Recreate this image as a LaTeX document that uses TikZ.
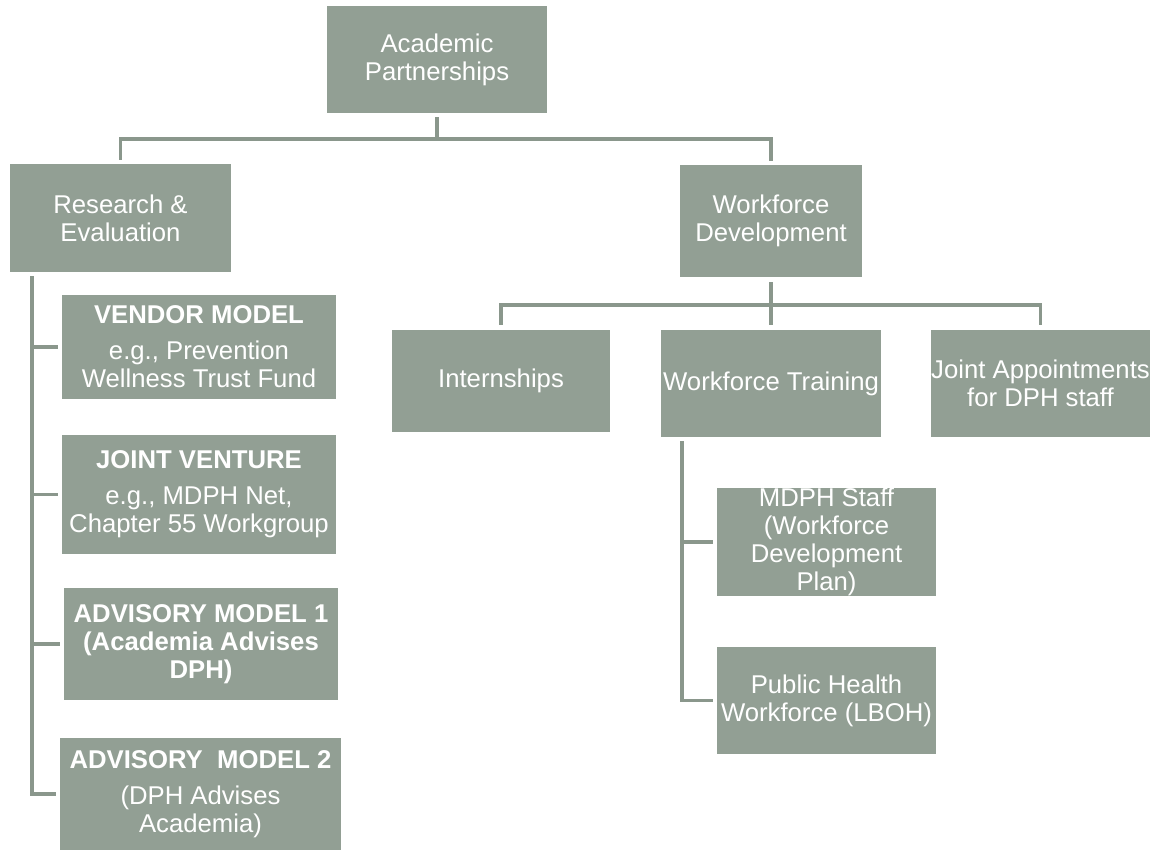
\documentclass[tikz,border=0pt]{standalone}
\usepackage{fontspec}
\setmainfont{Liberation Sans}
\definecolor{sage}{HTML}{929F94}
\definecolor{sageline}{HTML}{8A978C}
\begin{document}
\begin{tikzpicture}[x=1bp, y=-1bp,
        box/.style={fill=sage, text=white, inner sep=0pt, align=center,
            font=\fontsize{25.8}{28}\selectfont},
        link/.style={draw=sageline, line width=3.5bp}]
    \useasboundingbox (0,0) rectangle (1151,851);

    % oberste Ebene
    \node[box, minimum width=220bp, minimum height=107bp] (ap) at (437,59.5) {Academic\\Partnerships};

    % zweite Ebene
    \node[box, minimum width=221bp, minimum height=108bp] (re) at (120.5,218) {Research \&\\Evaluation};
    \node[box, minimum width=182bp, minimum height=112bp] (wd) at (771,221) {Workforce\\Development};

    % Modelle unter Research & Evaluation
    \node[box, minimum width=274bp, minimum height=104bp] (vendor) at (199,347)
        {\textbf{VENDOR MODEL}\\[8bp]e.g., Prevention\\Wellness Trust Fund};
    \node[box, minimum width=274bp, minimum height=119bp] (jv) at (199,494.5)
        {\textbf{JOINT VENTURE}\\[8bp]e.g., MDPH Net,\\Chapter 55 Workgroup};
    \node[box, minimum width=274bp, minimum height=112bp] (adv1) at (201,644)
        {\textbf{ADVISORY MODEL 1}\\\textbf{(Academia Advises}\\\textbf{DPH)}};
    \node[box, minimum width=281bp, minimum height=112bp] (adv2) at (200.5,794)
        {\textbf{ADVISORY\ \ MODEL 2}\\[8bp](DPH Advises\\Academia)};

    % Bereiche unter Workforce Development
    \node[box, minimum width=218bp, minimum height=102bp] (intern) at (501,381) {Internships};
    \node[box, minimum width=220bp, minimum height=107bp] (wt) at (771,383.5) {Workforce Training};
    \node[box, minimum width=219bp, minimum height=107bp] (ja) at (1040.5,383.5) {Joint Appointments\\for DPH staff};

    % Zielgruppen unter Workforce Training
    \node[box, minimum width=219bp, minimum height=108bp] (mdph) at (826.5,542)
        {MDPH Staff\\(Workforce\\Development\\Plan)};
    \node[box, minimum width=219bp, minimum height=107bp] (phw) at (826.5,700.5)
        {Public Health\\Workforce (LBOH)};

    % Verbindungen von oben
    \draw[link, shorten <=4bp] (ap.south) -- ++(0,26) coordinate (apbus);
    \draw[link, shorten >=4bp] (apbus) -| (re.north);
    \draw[link, shorten >=4bp] (apbus) -| (wd.north);

    \draw[link, shorten <=5bp] (wd.south) -- ++(0,28) coordinate (wdbus);
    \draw[link, shorten >=5bp] (wdbus) -| (intern.north);
    \draw[link, shorten >=5bp] (wdbus) -- (wt.north);
    \draw[link, shorten >=5bp] (wdbus) -| (ja.north);

    % seitliche Leisten
    \coordinate (retop) at ([xshift=22bp, yshift=-4bp]re.south west);
    \foreach \m in {vendor, jv, adv1, adv2}
        \draw[link, shorten >=4bp] (retop) |- (\m.west);

    \coordinate (wttop) at ([xshift=21bp, yshift=-4bp]wt.south west);
    \foreach \m in {mdph, phw}
        \draw[link, shorten >=4bp] (wttop) |- (\m.west);
\end{tikzpicture}
\end{document}
